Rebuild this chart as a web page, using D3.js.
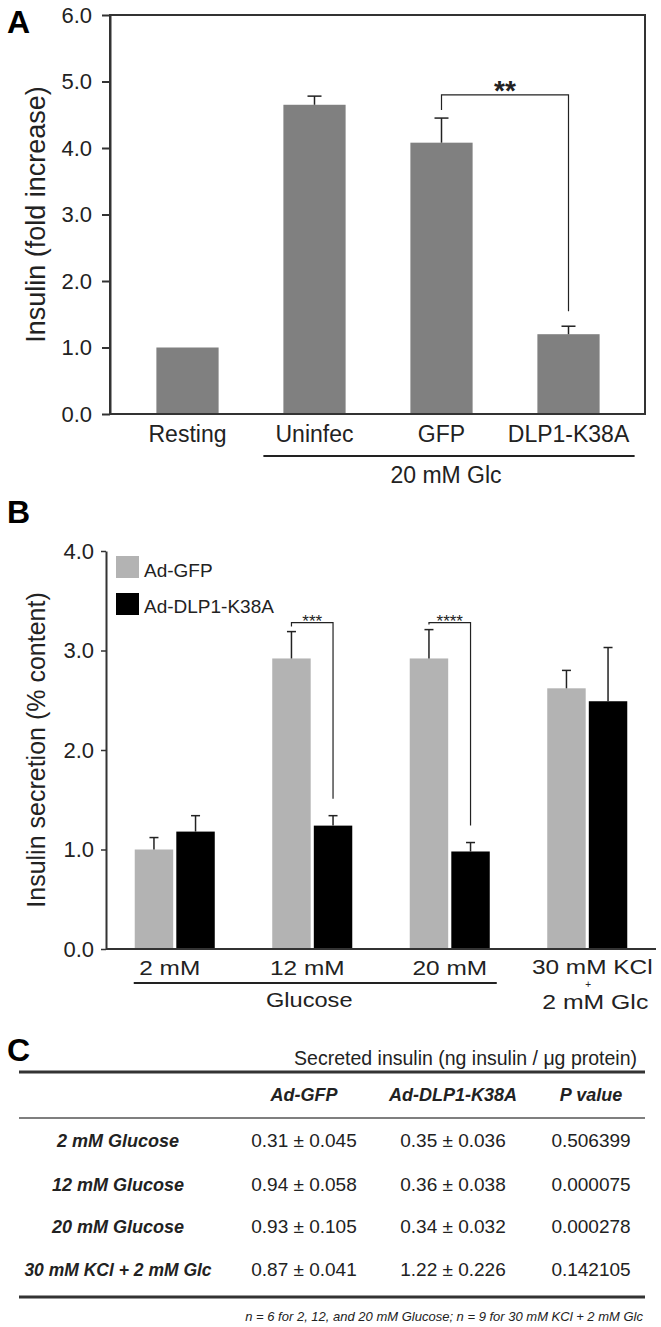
<!DOCTYPE html>
<html>
<head>
<meta charset="utf-8">
<script src="https://cdn.jsdelivr.net/npm/d3@7"></script>
<style>
  body { margin: 0; background: #fff; }
  svg { display: block; font-family: "Liberation Sans", Arial, sans-serif; }
</style>
</head>
<body>
<svg width="661" height="1327"></svg>
<script>
// ---- data: panel A (fold increase)
var catsA = ["Resting", "Uninfec", "GFP", "DLP1-K38A"];
var meanA = [1.0, 4.65, 4.08, 1.2];
var semA = [0, 0.13, 0.37, 0.12];
var ticksA = [0, 1, 2, 3, 4, 5, 6];

// ---- data: panel B (% content)
var groupsB = ["2 mM", "12 mM", "20 mM", "30 mM KCl"];
var seriesB = ["Ad-GFP", "Ad-DLP1-K38A"];
var gfpB = [1.0, 2.92, 2.92, 2.62];
var gfpErrB = [0.12, 0.27, 0.29, 0.18];
var k38aB = [1.18, 1.24, 0.98, 2.49];
var k38aErrB = [0.16, 0.10, 0.09, 0.54];
var ticksB = [0, 1, 2, 3, 4];

// ---- data: panel C (table)
var colsC = ["Ad-GFP", "Ad-DLP1-K38A", "P value"];
var rowsC = ["2 mM Glucose", "12 mM Glucose", "20 mM Glucose", "30 mM KCl + 2 mM Glc"];
var gfpC = ["0.31 \u00b1 0.045", "0.94 \u00b1 0.058", "0.93 \u00b1 0.105", "0.87 \u00b1 0.041"];
var k38aC = ["0.35 \u00b1 0.036", "0.36 \u00b1 0.038", "0.34 \u00b1 0.032", "1.22 \u00b1 0.226"];
var pC = ["0.506399", "0.000075", "0.000278", "0.142105"];

var svg = d3.select("svg");
var ink = "#222";

function letter(t, y) {
  svg.append("text").attr("x", 7).attr("y", y)
    .style("font-size", "32px").style("font-weight", "bold").text(t);
}

// text that is a bit wider than the font (panel B labels are stretched in the figure)
function wideText(g, x, y, t, size, sx) {
  return g.append("text").attr("transform", "translate(" + x + "," + y + ") scale(" + sx + ",1)")
    .attr("text-anchor", "middle").style("font-size", size + "px").style("fill", ink).text(t);
}

// =============== Panel A ===============
letter("A", 33);
var xA = d3.scaleBand().domain(catsA).range([124, 632]).paddingInner(0.51).paddingOuter(0.255);
var yA = d3.scaleLinear().domain([0, 6]).range([414, 15]);

var gA = svg.append("g");
gA.selectAll("rect.bar").data(catsA).enter().append("rect")
  .attr("x", function (d) { return xA(d); })
  .attr("y", function (d, i) { return yA(meanA[i]); })
  .attr("width", xA.bandwidth())
  .attr("height", function (d, i) { return yA(0) - yA(meanA[i]); })
  .style("fill", "#808080");

// error bars
catsA.forEach(function (c, i) {
  if (!semA[i]) return;
  var cx = xA(c) + xA.bandwidth() / 2;
  gA.append("line").attr("x1", cx).attr("x2", cx)
    .attr("y1", yA(meanA[i])).attr("y2", yA(meanA[i] + semA[i]))
    .style("stroke", ink).style("stroke-width", 1.5);
  gA.append("line").attr("x1", cx - 7).attr("x2", cx + 7)
    .attr("y1", yA(meanA[i] + semA[i])).attr("y2", yA(meanA[i] + semA[i]))
    .style("stroke", ink).style("stroke-width", 1.5);
});

// frame + left axis
gA.append("rect").attr("x", 110).attr("y", yA(6)).attr("width", 645 - 110).attr("height", yA(0) - yA(6))
  .style("fill", "none").style("stroke", "#333").style("stroke-width", 2);
var axA = gA.append("g").attr("transform", "translate(110,0)")
  .call(d3.axisLeft(yA).tickValues(ticksA).tickFormat(d3.format(".1f")).tickSize(8).tickPadding(10).tickSizeOuter(0));
axA.select(".domain").style("stroke", "#333").style("stroke-width", 2);
axA.selectAll(".tick line").style("stroke", "#333").style("stroke-width", 2);
axA.selectAll(".tick text").style("font-size", "22px").style("font-family", "Liberation Sans, Arial, sans-serif").style("fill", ink);

// category labels
gA.selectAll("text.cat").data(catsA).enter().append("text")
  .attr("x", function (d) { return xA(d) + xA.bandwidth() / 2; })
  .attr("y", 442).attr("text-anchor", "middle")
  .style("font-size", "23px").style("fill", ink).text(function (d) { return d; });
gA.append("line").attr("x1", xA("Uninfec") - 20).attr("x2", xA("DLP1-K38A") + xA.bandwidth() + 35)
  .attr("y1", 456).attr("y2", 456).style("stroke", ink).style("stroke-width", 2);
gA.append("text").attr("x", (xA("Uninfec") - 20 + xA("DLP1-K38A") + xA.bandwidth() + 35) / 2 - 3)
  .attr("y", 483).attr("text-anchor", "middle").style("font-size", "23px").style("fill", ink).text("20 mM Glc");

// y title
gA.append("text").attr("transform", "translate(45," + (yA(3)) + ") rotate(-90)")
  .attr("text-anchor", "middle").style("font-size", "27px").style("fill", ink)
  .text("Insulin (fold increase)");

// significance bracket
(function () {
  var i1 = catsA.indexOf("GFP"), i2 = catsA.indexOf("DLP1-K38A");
  var x1 = xA(catsA[i1]) + xA.bandwidth() / 2, x2 = xA(catsA[i2]) + xA.bandwidth() / 2;
  var yb = yA(4.8);
  gA.append("path")
    .attr("d", "M" + x1 + "," + (yA(meanA[i1] + semA[i1]) - 8) + "V" + yb + "H" + x2 + "V" + (yA(meanA[i2] + semA[i2]) - 15))
    .style("fill", "none").style("stroke", ink).style("stroke-width", 1.2);
  gA.append("text").attr("x", (x1 + x2) / 2).attr("y", yb + 5).attr("text-anchor", "middle")
    .style("font-size", "28px").style("font-weight", "bold").style("fill", ink).text("**");
})();

// =============== Panel B ===============
letter("B", 523);
var x0B = d3.scaleBand().domain(groupsB).range([106, 656]).paddingInner(0.418).paddingOuter(0.209);
var x1B = d3.scaleBand().domain(seriesB).range([0, x0B.bandwidth()]).paddingInner(0.075);
var yB = d3.scaleLinear().domain([0, 4]).range([949, 551]);
var colB = d3.scaleOrdinal().domain(seriesB).range(["#b3b3b3", "#000000"]);

var dataB = groupsB.map(function (g, i) {
  return { group: g, bars: [
    { s: seriesB[0], v: gfpB[i], e: gfpErrB[i] },
    { s: seriesB[1], v: k38aB[i], e: k38aErrB[i] }
  ] };
});

var gB = svg.append("g");
var grp = gB.selectAll("g.grp").data(dataB).enter().append("g")
  .attr("transform", function (d) { return "translate(" + x0B(d.group) + ",0)"; });
grp.selectAll("rect").data(function (d) { return d.bars; }).enter().append("rect")
  .attr("x", function (d) { return x1B(d.s); })
  .attr("y", function (d) { return yB(d.v); })
  .attr("width", x1B.bandwidth())
  .attr("height", function (d) { return yB(0) - yB(d.v); })
  .style("fill", function (d) { return colB(d.s); });
grp.selectAll("line.err").data(function (d) { return d.bars; }).enter().append("line")
  .attr("x1", function (d) { return x1B(d.s) + x1B.bandwidth() / 2; })
  .attr("x2", function (d) { return x1B(d.s) + x1B.bandwidth() / 2; })
  .attr("y1", function (d) { return yB(d.v); })
  .attr("y2", function (d) { return yB(d.v + d.e); })
  .style("stroke", ink).style("stroke-width", 1.5);
grp.selectAll("line.cap").data(function (d) { return d.bars; }).enter().append("line")
  .attr("x1", function (d) { return x1B(d.s) + x1B.bandwidth() / 2 - 4.5; })
  .attr("x2", function (d) { return x1B(d.s) + x1B.bandwidth() / 2 + 4.5; })
  .attr("y1", function (d) { return yB(d.v + d.e); })
  .attr("y2", function (d) { return yB(d.v + d.e); })
  .style("stroke", ink).style("stroke-width", 1.5);

// axes
var axB = gB.append("g").attr("transform", "translate(106,0)")
  .call(d3.axisLeft(yB).tickValues(ticksB).tickFormat(d3.format(".1f")).tickSize(5).tickPadding(7).tickSizeOuter(0));
axB.select(".domain").style("stroke", "#333").style("stroke-width", 2);
axB.selectAll(".tick line").style("stroke", "#333").style("stroke-width", 1.5);
axB.selectAll(".tick text").style("font-size", "22px").style("font-family", "Liberation Sans, Arial, sans-serif").style("fill", ink);
gB.append("line").attr("x1", 106).attr("x2", 656).attr("y1", yB(0)).attr("y2", yB(0))
  .style("stroke", "#333").style("stroke-width", 2);

// legend
seriesB.forEach(function (s, i) {
  gB.append("rect").attr("x", 116).attr("y", yB(4) + 5 + i * 37).attr("width", 23).attr("height", 22)
    .style("fill", colB(s));
  gB.append("text").attr("x", 144).attr("y", yB(4) + 26 + i * 36)
    .style("font-size", "19px").style("fill", ink).text(s);
});

// x labels
var labShift = [-5, -5, 0, 5];
groupsB.forEach(function (g, i) {
  wideText(gB, x0B(g) + x0B.bandwidth() / 2 + labShift[i], i === 3 ? 973.5 : 975, g, 20, 1.22);
});
var kclX = x0B("30 mM KCl") + x0B.bandwidth() / 2;
gB.append("text").attr("x", kclX + 1).attr("y", 987.5).attr("text-anchor", "middle")
  .style("font-size", "10px").style("fill", ink).text("+");
wideText(gB, kclX + 8, 1008.5, "2 mM Glc", 20, 1.24);
var gl1 = x0B("2 mM") - 1, gl2 = x0B("20 mM") + x0B.bandwidth() + 7;
gB.append("line").attr("x1", gl1).attr("x2", gl2).attr("y1", 983).attr("y2", 983)
  .style("stroke", ink).style("stroke-width", 2);
wideText(gB, (gl1 + gl2) / 2 - 6, 1007, "Glucose", 20, 1.18);

// y title
gB.append("text").attr("transform", "translate(45," + yB(2) + ") rotate(-90)")
  .attr("text-anchor", "middle").style("font-size", "25px").style("fill", ink)
  .text("Insulin secretion (% content)");

// significance brackets
[["12 mM", "***"], ["20 mM", "****"]].forEach(function (p) {
  var d = dataB[groupsB.indexOf(p[0])];
  var xa = x0B(p[0]) + x1B(seriesB[0]) + x1B.bandwidth() / 2;
  var xb = x0B(p[0]) + x1B(seriesB[1]) + x1B.bandwidth() / 2;
  var yb = yB(3.28);
  gB.append("path")
    .attr("d", "M" + xa + "," + (yB(d.bars[0].v + d.bars[0].e) - 5) + "V" + yb + "H" + xb + "V" + (yB(d.bars[1].v + d.bars[1].e) - 17))
    .style("fill", "none").style("stroke", ink).style("stroke-width", 1.2);
  gB.append("text").attr("x", (xa + xb) / 2).attr("y", yb + 4).attr("text-anchor", "middle")
    .style("font-size", "17px").style("fill", ink).text(p[1]);
});

// =============== Panel C ===============
letter("C", 1061);
var gC = svg.append("g");
var colX = [304, 453, 591];
gC.append("text").attr("x", 637).attr("y", 1065).attr("text-anchor", "end")
  .style("font-size", "19.5px").style("fill", ink).text("Secreted insulin (ng insulin / \u03bcg protein)");
gC.append("line").attr("x1", 19).attr("x2", 645).attr("y1", 1072).attr("y2", 1072)
  .style("stroke", "#333").style("stroke-width", 3);
gC.selectAll("text.hd").data(colsC).enter().append("text")
  .attr("x", function (d, i) { return colX[i]; }).attr("y", 1101).attr("text-anchor", "middle")
  .style("font-size", "18px").style("font-weight", "bold").style("font-style", "italic").style("fill", ink)
  .text(function (d) { return d; });
gC.append("line").attr("x1", 19).attr("x2", 645).attr("y1", 1118).attr("y2", 1118)
  .style("stroke", "#555").style("stroke-width", 1.5);

var rowY = [1147, 1191, 1233, 1276];
rowsC.forEach(function (r, i) {
  gC.append("text").attr("x", 118).attr("y", rowY[i]).attr("text-anchor", "middle")
    .style("font-size", i === 3 ? "17.5px" : "18px").style("font-weight", "bold").style("font-style", "italic").style("fill", ink)
    .text(r);
  [gfpC[i], k38aC[i], pC[i]].forEach(function (v, j) {
    gC.append("text").attr("x", colX[j]).attr("y", rowY[i]).attr("text-anchor", "middle")
      .style("font-size", "19px").style("fill", ink).text(v);
  });
});
gC.append("line").attr("x1", 19).attr("x2", 645).attr("y1", 1297).attr("y2", 1297)
  .style("stroke", "#333").style("stroke-width", 3);
gC.append("text").attr("x", 643).attr("y", 1321).attr("text-anchor", "end")
  .style("font-size", "13px").style("font-style", "italic").style("fill", ink)
  .text("n = 6 for 2, 12, and 20 mM Glucose; n = 9 for 30 mM KCl + 2 mM Glc");
</script>
</body>
</html>
